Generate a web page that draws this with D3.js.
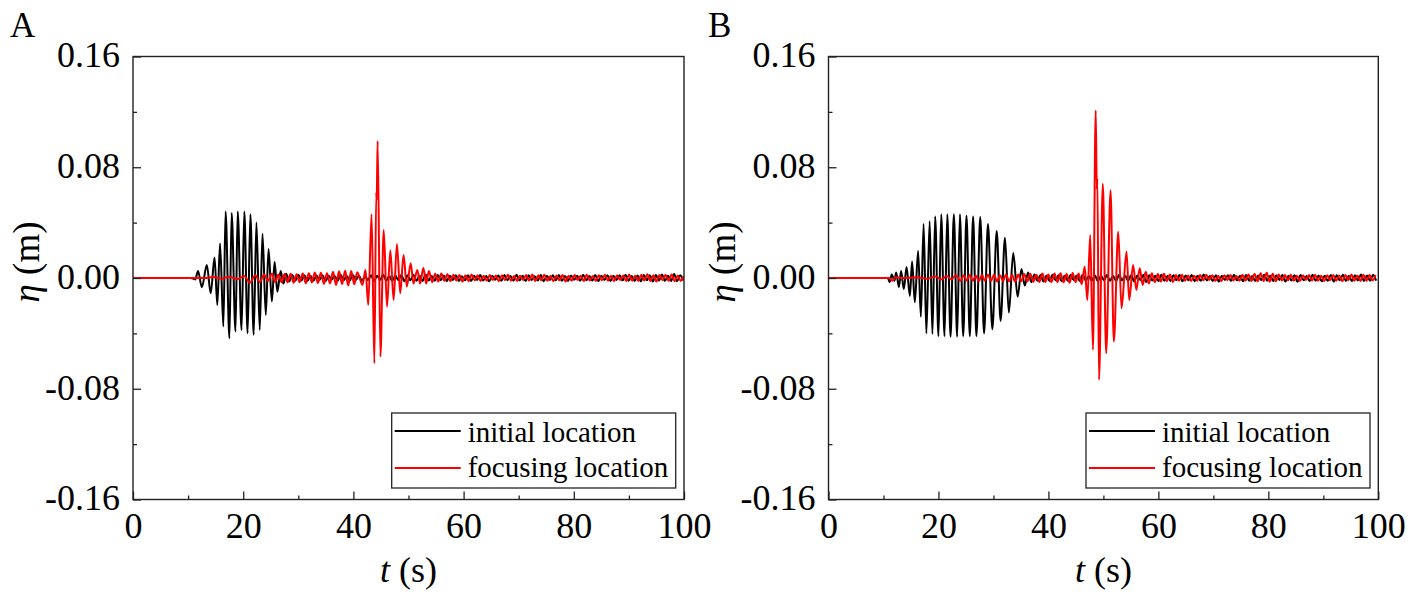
<!DOCTYPE html>
<html><head><meta charset="utf-8">
<script src="https://cdn.jsdelivr.net/npm/d3@7"></script>
<style>
body{margin:0;background:#fff}
svg{display:block}
text{font-family:"Liberation Serif","Times New Roman",serif;fill:#000}
</style></head>
<body><svg id="c" width="1417" height="600"></svg>
<script>
// ---------- axis ticks / labels ----------
const xTicks = [0, 20, 40, 60, 80, 100];
const xMinor = [10, 30, 50, 70, 90];
const yTicks = [-0.16, -0.08, 0, 0.08, 0.16];
const yTickLabels = ["-0.16", "-0.08", "0.00", "0.08", "0.16"];
const yMinor = [-0.12, -0.04, 0.04, 0.12];
const seriesNames = ["initial location", "focusing location"];
const seriesColors = ["#000000", "#ff0000"];
const panelLetters = ["A", "B"];

// ---------- Panel A : initial location (black) ----------
const initialA_packet = [[0,0],[10.5,0],[11.3,-0.001],[11.8,0.005],[12.5,-0.0067],[13.4,0.0094],[14.1,-0.011],[14.8,0.0148],[15.3,-0.0195],[15.8,0.025],[16.4,-0.035],[16.8,0.048],[17.5,-0.0435],[17.9,0.047],[18.6,-0.0387],[19.0,0.048],[19.7,-0.0375],[20.2,0.048],[20.8,-0.040],[21.3,0.046],[21.9,-0.041],[22.4,0.040],[23.0,-0.0375],[23.5,0.032],[24.1,-0.0267],[24.6,0.021],[25.2,-0.017],[25.7,0.0115],[26.2,-0.0099],[26.8,0.005],[27.3,-0.004]];
const initialA_tailStart = 27.8;
const initialA_tail = [.003,-.0025,.0022,-.002,.0024,-.0018,.002,-.0022,.0016,-.002,
.0018,-.0015,.002,-.0024,.0017,-.0012,.0015,-.0019,.0021,-.0016,
.0014,-.0018,.0022,-.0013,.0016,-.002,.0012,-.0015,.0019,-.0021,
.0017,-.0014,.0023,-.0019,.0015,-.0022,.0018,-.0016,.0021,-.0024,
.0019,-.0017,.0024,-.002,.0016,-.0021,.0025,-.0018,.0014,-.0019,
.0022,-.0016,.0018,-.0023,.0017,-.0015,.002,-.0022,.0013,-.0017,
.0019,-.0021,.0016,-.0014,.0022,-.0018,.0015,-.0024,.0017,-.0013,
.0018,-.002,.0021,-.0016,.0014,-.0019,.0023,-.0017,.0016,-.0022,
.002,-.0015,.0013,-.0018,.0021,-.0024,.0017,-.0014,.0019,-.0016,
.0022,-.0019,.0015,-.0021,.0018,-.0013,.0016,-.002,.0024,-.0017,
.0014,-.0018,.0021,-.0023,.0017,-.0015,.0019,-.0022,.0016,-.0014,
.002,-.0017,.0023,-.0019,.0015,-.0021,.0018,-.0024,.0022,-.0016,
.0019,-.0025,.0021,-.0018,.0026,-.002,.0017,-.0022,.0028,-.0023,
.002,-.0018];

// ---------- Panel A : focusing location (red) ----------
const focusA_pre = [[0,0],[13,0],[14.5,0.0008],[16,-0.0005],[17.5,0.0008],[19,-0.0008],[20.2,0.0015],[21.2,-0.0035],[22.2,0.002],[23.0,-0.003],[23.8,0.0025],[24.5,-0.002],[25.2,0.003],[25.8,-0.0028]];
const focusA_midStart = 26.4;
const focusA_mid = [.0025,-.003,.0028,-.0032,.003,-.0035,.0027,-.003,.0033,-.0038,
.0035,-.0032,.004,-.0036,.0038,-.0042,.0034,-.004,.0045,-.005,
.0048,-.0044,.0052,-.0055,.005,-.0046,.0042];
const focusA_packet = [[41.65,-0.005],[42.2,0.0058],[42.7,-0.0195],[43.3,0.046],[43.8,-0.0615],[44.15,0.062],[44.22,0.056],[44.4,0.099],[44.9,-0.0567],[45.5,0.0346],[46.1,-0.0207],[46.7,0.020],[47.3,-0.0159],[47.9,0.0245],[48.5,-0.011],[49.1,0.0166],[49.7,-0.0062],[50.4,0.0106],[50.9,-0.004],[51.6,0.0058],[52.1,-0.004],[52.7,0.0072],[53.2,-0.004],[53.7,0.005],[54.3,-0.003]];
const focusA_tailStart = 54.85;
const focusA_tail = [.003,-.0025,.0032,-.002,.0027,-.0022,.0024,-.0018,.0021,-.0026,
.0019,-.0023,.0025,-.0017,.002,-.0021,.0016,-.0019,.0022,-.0015,
.0018,-.0024,.002,-.0016,.0023,-.0019,.0015,-.0021,.0017,-.0014,
.0021,-.0018,.0026,-.0022,.0019,-.0016,.0024,-.002,.0015,-.0023,
.0018,-.0017,.0022,-.0025,.0016,-.0019,.0021,-.0014,.0017,-.0022,
.0024,-.0018,.0015,-.0021,.0019,-.0016,.0023,-.002,.0017,-.0024,
.002,-.0015,.0018,-.0022,.0025,-.0019,.0016,-.0021,.0023,-.0018,
.0027,-.0022,.0019,-.0025,.0021,-.0017,.0024,-.002,.0026,-.0023,
.0018,-.0021,.0015];

// ---------- Panel B : initial location (black) ----------
const initialB_packet = [[0,0],[10.8,0],[11.1,-0.003],[11.5,0.0025],[12.0,-0.002],[12.3,0.004],[12.8,-0.0065],[13.2,0.005],[13.7,-0.008],[14.2,0.008],[14.8,-0.013],[15.2,0.012],[15.7,-0.0175],[16.3,0.0195],[16.8,-0.028],[17.3,0.039],[17.8,-0.040],[18.4,0.041],[18.9,-0.0405],[19.4,0.0445],[20.0,-0.042],[20.5,0.046],[21.1,-0.042],[21.6,0.046],[22.2,-0.0425],[22.8,0.046],[23.4,-0.0425],[23.9,0.046],[24.5,-0.042],[25.1,0.045],[25.7,-0.042],[26.3,0.0445],[26.9,-0.042],[27.6,0.044],[28.3,-0.040],[29.0,0.039],[29.8,-0.037],[30.6,0.034],[31.3,-0.031],[32.1,0.029],[32.8,-0.025],[33.6,0.018],[34.4,-0.0135],[35.1,0.0065],[35.7,-0.0055],[36.3,0.004],[36.9,-0.003]];
const initialB_tailStart = 37.45;
const initialB_tail = [.0025,-.002,.0022,-.0026,.0018,-.0021,.0024,-.0017,.002,-.0023,
.0016,-.0019,.0021,-.0015,.0018,-.0022,.0024,-.0018,.0015,-.002,
.0019,-.0024,.0017,-.0016,.0022,-.0019,.0014,-.0021,.0023,-.0017,
.0016,-.002,.0021,-.0025,.0018,-.0015,.0022,-.0028,.002,-.0018,
.0017,-.0022,.0024,-.0019,.0015,-.0021,.0019,-.0016,.0022,-.0024,
.0018,-.0017,.0021,-.0023,.0016,-.002,.0025,-.0018,.0014,-.0022,
.002,-.0026,.0017,-.0015,.0019,-.0021,.0023,-.0017,.0016,-.0024,
.0021,-.0019,.0015,-.0022,.0018,-.0016,.0024,-.002,.0017,-.0023,
.0019,-.0015,.0022,-.0025,.0016,-.0018,.002,-.0027,.0021,-.0017,
.0015,-.0022,.0023,-.0019,.0018,-.0024,.0016,-.002,.0022,-.0026,
.0019,-.0017,.0024,-.0021,.0017,-.0023,.002,-.0018,.0025,-.0022,
.0018,-.002,.0023,-.0019];

// ---------- Panel B : focusing location (red) ----------
const focusB_pre = [[0,0],[11,0],[11.6,-0.002],[12.2,0.0005],[14,0],[16,0.0005],[18,-0.0005],[19.5,0.001],[20.5,-0.001],[21.5,0.0015],[22.3,-0.001],[23.2,0.002],[24.0,-0.002]];
const focusB_midStart = 24.6;
const focusB_mid = [.002,-.0018,.0022,-.002,.0017,-.0023,.0021,-.0019,.0024,-.0021,
.0023,-.0025,.002,-.0022,.0026,-.0024,.0021,-.0027,.0025,-.0023,
.0028,-.0025,.003,-.0027,.0024,-.0029,.0032,-.0028,.0026,-.003,
.0033,-.0029,.0035,-.0031,.0028,-.0034,.0036,-.003,.0032,-.0045];
const focusB_packet = [[46.6,0.0082],[47.08,-0.0159],[47.6,0.031],[48.1,-0.0519],[48.6,0.121],[48.8,0.064],[48.9,0.072],[49.2,-0.0735],[49.9,0.068],[50.5,-0.0543],[51.3,0.0634],[51.9,-0.0459],[52.7,0.0334],[53.3,-0.0219],[54.2,0.019],[54.7,-0.0159],[55.4,0.0094],[56.0,-0.0086],[56.6,0.007],[57.15,-0.005],[57.7,0.0045],[58.25,-0.004]];
const focusB_tailStart = 58.8;
const focusB_tail = [.0035,-.003,.0028,-.0025,.003,-.0022,.0026,-.0028,.0021,-.0019,
.0024,-.002,.0018,-.0022,.0016,-.0019,.0021,-.0017,.0023,-.0015,
.0019,-.0021,.0017,-.0024,.002,-.0016,.0022,-.0018,.0015,-.002,
.0023,-.0019,.0026,-.0021,.0028,-.0024,.0035,-.0022,.0038,-.0026,
.003,-.0023,.0025,-.0018,.0021,-.0017,.0023,-.002,.0016,-.0022,
.0019,-.0015,.0021,-.0018,.0024,-.002,.0017,-.0023,.0019,-.0016,
.0022,-.0019,.0018,-.0024,.0021,-.0017,.0025,-.002,.0018,-.0022,
.0023,-.0019,.0021,-.0018,.002];
const sampleStep = 0.55; // spacing of read-off extrema in the low-amplitude parts

// ---------- build series ----------
const seq = (start, vals) => vals.map((v, i) => [start + i * sampleStep, v]);
const panels = [
  { x0: 133, x1: 684, series: [
      initialA_packet.concat(seq(initialA_tailStart, initialA_tail)),
      focusA_pre.concat(seq(focusA_midStart, focusA_mid), focusA_packet, seq(focusA_tailStart, focusA_tail))
    ], legendX: 391.7, letterX: 10, yLabelX: 39 },
  { x0: 828.5, x1: 1378.3, series: [
      initialB_packet.concat(seq(initialB_tailStart, initialB_tail)),
      focusB_pre.concat(seq(focusB_midStart, focusB_mid), focusB_packet, seq(focusB_tailStart, focusB_tail))
    ], legendX: 1086, letterX: 708, yLabelX: 734.5 }
];

const svg = d3.select("#c");
const yTop = 56.5, yBot = 499.5;
const frameColor = "#222";

panels.forEach((p, pi) => {
  const x = d3.scaleLinear().domain([0, 100]).range([p.x0, p.x1]);
  const y = d3.scaleLinear().domain([-0.16, 0.16]).range([yBot, yTop]);
  const g = svg.append("g");

  g.append("clipPath").attr("id", "clip" + pi).append("rect")
    .attr("x", p.x0).attr("y", yTop).attr("width", p.x1 - p.x0).attr("height", yBot - yTop);

  const line = d3.line().x(d => x(d[0])).y(d => y(d[1])).curve(d3.curveMonotoneX);
  p.series.forEach((s, si) => {
    g.append("path").datum(s).attr("d", line)
      .attr("clip-path", `url(#clip${pi})`)
      .attr("fill", "none").attr("stroke", seriesColors[si])
      .attr("stroke-width", 2).attr("stroke-linejoin", "round");
  });

  // axes
  const bx = g.append("g").attr("transform", `translate(0,${yBot})`)
    .call(d3.axisBottom(x).tickValues(xTicks).tickSizeInner(-8).tickSizeOuter(0).tickPadding(13).tickFormat(d3.format("d")));
  bx.selectAll("text").attr("font-size", 36).attr("font-family", '"Liberation Serif",serif');
  const bxm = g.append("g").attr("transform", `translate(0,${yBot})`)
    .call(d3.axisBottom(x).tickValues(xMinor).tickSizeInner(-4).tickSizeOuter(0).tickFormat(""));
  const ly = g.append("g").attr("transform", `translate(${p.x0},0)`)
    .call(d3.axisLeft(y).tickValues(yTicks).tickSizeInner(-8).tickSizeOuter(0).tickPadding(13)
      .tickFormat((d, i) => yTickLabels[i]));
  ly.selectAll("text").attr("font-size", 36).attr("font-family", '"Liberation Serif",serif').attr("dy", "0.29em");
  const lym = g.append("g").attr("transform", `translate(${p.x0},0)`)
    .call(d3.axisLeft(y).tickValues(yMinor).tickSizeInner(-4).tickSizeOuter(0).tickFormat(""));
  [bx, bxm, ly, lym].forEach(a => {
    a.select(".domain").remove();
    a.selectAll("line").attr("stroke", frameColor).attr("stroke-width", 1.3);
  });

  // frame
  g.append("rect").attr("x", p.x0).attr("y", yTop).attr("width", p.x1 - p.x0).attr("height", yBot - yTop)
    .attr("fill", "none").attr("stroke", frameColor).attr("stroke-width", 1.4);

  // axis titles
  const xt = g.append("text").attr("x", (p.x0 + p.x1) / 2).attr("y", 581.5)
    .attr("text-anchor", "middle").attr("font-size", 36);
  xt.append("tspan").attr("font-style", "italic").text("t");
  xt.append("tspan").text(" (s)");
  const yt = g.append("text").attr("transform", `translate(${p.yLabelX},${262}) rotate(-90)`)
    .attr("text-anchor", "middle").attr("font-size", 37);
  yt.append("tspan").attr("font-style", "italic").text("η");
  yt.append("tspan").text(" (m)");

  // panel letter
  g.append("text").attr("x", p.letterX).attr("y", 36.5).attr("font-size", 35).text(panelLetters[pi]);

  // legend
  const lg = g.append("g");
  const lx = p.legendX, lt = 413;
  lg.append("rect").attr("x", lx).attr("y", lt).attr("width", 284).attr("height", 75)
    .attr("fill", "#fff").attr("stroke", frameColor).attr("stroke-width", 1.3);
  seriesNames.forEach((n, i) => {
    const cy = lt + 18 + i * 37;
    lg.append("line").attr("x1", lx + 3).attr("x2", lx + 69).attr("y1", cy).attr("y2", cy)
      .attr("stroke", seriesColors[i]).attr("stroke-width", 1.8);
    lg.append("text").attr("x", lx + 76).attr("y", cy + 10.5 - i * 1.5).attr("font-size", 29).text(n);
  });
});
</script>
</body></html>
